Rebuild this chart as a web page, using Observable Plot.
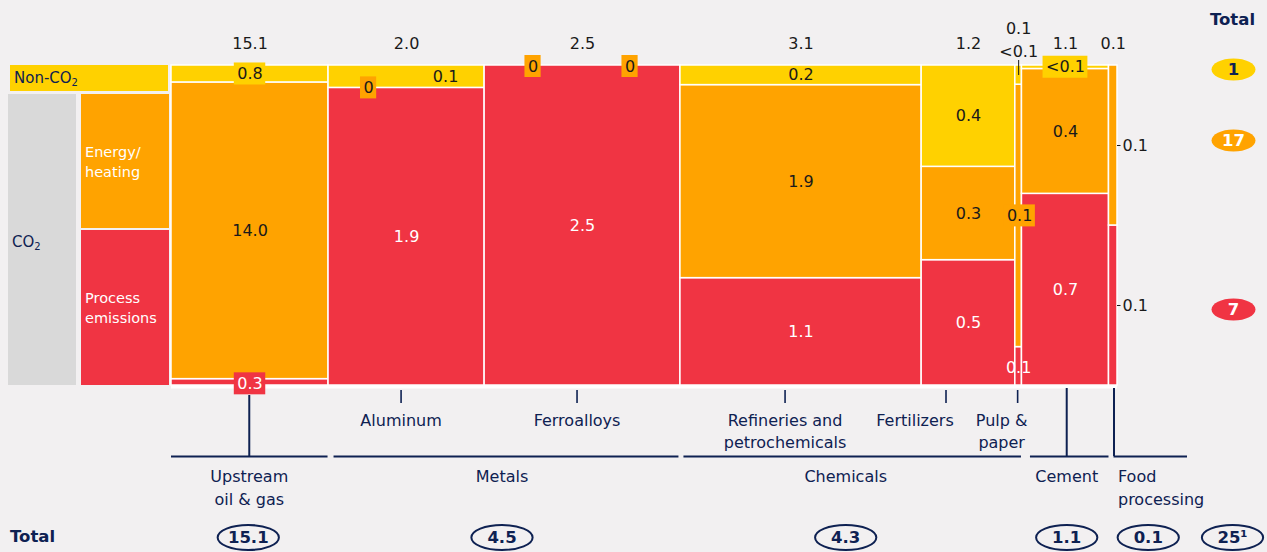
<!DOCTYPE html>
<html>
<head>
<meta charset="utf-8">
<script src="https://cdn.jsdelivr.net/npm/d3@7"></script>
<script src="https://cdn.jsdelivr.net/npm/@observablehq/plot@0.6"></script>
<style>
  body { margin: 0; background: #f2f0f1; font-family: "DejaVu Sans", sans-serif; }
  #wrap { position: relative; width: 1267px; height: 552px; overflow: hidden; }
  #wrap svg { position: absolute; left: 0; top: 0; }
  .lg { position: absolute; box-sizing: border-box; font-size: 14.5px; line-height: 20px; padding-left: 4px; }
  .lg sub { font-size: 10px; vertical-align: -3px; line-height: 0; }
</style>
</head>
<body>
<div id="wrap"></div>
<script>
// ---------------- DATA ----------------
const sectors = ["Upstream oil & gas", "Aluminum", "Ferroalloys", "Refineries and petrochemicals",
                 "Fertilizers", "Pulp & paper", "Cement", "Food processing"];
const sectorGroup = ["Upstream oil & gas", "Metals", "Metals", "Chemicals", "Chemicals", "Chemicals", "Cement", "Food processing"];
const groups = ["Upstream oil & gas", "Metals", "Chemicals", "Cement", "Food processing"];
const groupLabels = ["Upstream\noil & gas", "Metals", "Chemicals", "Cement", "Food\nprocessing"];
const groupTotals = ["15.1", "4.5", "4.3", "1.1", "0.1"];
const grandTotal = "25¹";
// column width share (%)
const columnWidth = [16.6, 16.5, 20.7, 25.5, 9.9, 0.7, 9.2, 0.9];
// emissions by type
const nonCO2 = [0.8, 0.14, 0, 0.19, 0.38, 0.006, 0.012, 0];
const energy = [14.0, 0, 0, 1.87, 0.35, 0.082, 0.43, 0.05];
const processEm = [0.3, 1.86, 2.5, 1.04, 0.47, 0.012, 0.66, 0.05];
const sectorTotalLabels = ["15.1", "2.0", "2.5", "3.1", "1.2", "0.1", "1.1", "0.1"];
const nonCO2Labels = ["0.8", "0.1", "0", "0.2", "0.4", "<0.1", "<0.1", ""];
const energyLabels = ["14.0", "0", "0", "1.9", "0.3", "0.1", "0.4", "0.1"];
const processLabels = ["0.3", "1.9", "2.5", "1.1", "0.5", "0.1", "0.7", "0.1"];
const subsectorLabels = ["", "Aluminum", "Ferroalloys", "Refineries and\npetrochemicals", "Fertilizers", "Pulp &\npaper", "", ""];
const gasTypes = ["nonCO2", "energy", "process"];
const gasTotals = ["1", "17", "7"];

// ---------------- LAYOUT / STYLE ----------------
const W = 1267, H = 552, mL = 171, mR = 150, mT = 65, mB = 167;
const plotW = W - mL - mR, plotH = H - mT - mB;
const xMax = d3.sum(columnWidth);
const ux = px => px * xMax / plotW;
const uy = px => px / plotH;
const colors = { nonCO2: "#FFD100", energy: "#FFA300", process: "#F03443" };
const NAVY = "#0E2152", INK = "#1a1a1a";

const labelLayout = {
  "0|nonCO2": { bg: colors.nonCO2 },
  "0|process": { bg: colors.process, dy: 1.5 },
  "1|nonCO2": { dx: 39 },
  "1|energy": { dx: -38, bg: colors.energy },
  "2|nonCO2": { dx: -49.5, dy: 1, bg: colors.energy },
  "2|energy": { dx: 47.5, dy: 1, bg: colors.energy },
  "5|nonCO2": { above: true },
  "5|energy": { dx: 1, bg: colors.energy },
  "5|process": { dy: 2 },
  "6|nonCO2": { bg: colors.nonCO2 },
  "7|energy": { outside: true },
  "7|process": { outside: true }
};
const tickDx = { 1: -5.5, 2: -5.5, 3: -16, 4: -22.5, 5: -1 };
const subLabelDx = { 1: -5.5, 2: -5.5, 3: -16, 4: -53.5, 5: -17 };
const bracketInset = [[0, -0.5], [5.5, -1.5], [3.5, -0.5], [8.5, 0], [5, 70]];
const groupLabelDx = [-0.75, -2.5, -5.5, 1.25, null];
const groupEllipseDx = [-1.75, -2.5, -5.5, 1.25, 35];
const gasTotalY = [4, 75, 244];   // px below top of bars
const gasTotalFill = [colors.nonCO2, colors.energy, colors.process];
const gasTotalInk = [NAVY, "white", "white"];

// ---------------- BUILD ----------------
let acc = 0;
const cols = sectors.map((s, i) => {
  const x1 = acc; acc += columnWidth[i];
  const tot = nonCO2[i] + energy[i] + processEm[i];
  return { i, s, x1, x2: acc, xc: (x1 + acc) / 2, p: processEm[i] / tot, e: energy[i] / tot };
});
const segs = [];
cols.forEach(c => {
  [["process", 0, c.p], ["energy", c.p, c.p + c.e], ["nonCO2", c.p + c.e, 1]].forEach(([t, a, b]) =>
    segs.push({ ...c, type: t, y1: a, y2: b, fill: colors[t] }));
});

const valueLabels = { nonCO2: nonCO2Labels, energy: energyLabels, process: processLabels };
const charW = { "0": .636, "1": .636, "2": .636, "3": .636, "4": .636, "5": .636, "6": .636, "7": .636, "8": .636, "9": .636, ".": .318, "<": .838 };
const textW = s => [...s].reduce((a, ch) => a + (charW[ch] || .6), 0) * 16;
const labels = [];
segs.forEach(s => {
  const txt = valueLabels[s.type][s.i];
  if (!txt) return;
  const L = labelLayout[`${s.i}|${s.type}`] || {};
  let x = s.xc + ux(L.dx || 0), y = (s.y1 + s.y2) / 2 - uy(L.dy || 0), anchor = "middle";
  if (L.above) y = 1 + uy(13.5);
  if (L.outside) { x = s.x2 + ux(5); anchor = "start"; }
  labels.push({ x, y, txt, anchor, bg: L.bg, leader: !!L.outside, xEdge: s.x2,
    color: (s.type === "process" && !L.outside) ? "white" : INK });
});
const boxes = labels.filter(d => d.bg).map(d => {
  const w = textW(d.txt) + 6;
  return { x1: d.x - ux(w / 2), x2: d.x + ux(w / 2), y1: d.y - uy(11), y2: d.y + uy(11), fill: d.bg };
});

const subs = cols.filter(c => subsectorLabels[c.i]).map(c => {
  const txt = subsectorLabels[c.i], n = txt.split("\n").length;
  return { txt, xt: c.xc + ux(tickDx[c.i]), xl: c.xc + ux(subLabelDx[c.i]), yl: -uy(33 + (n - 1) * 11) };
});

const grp = groups.map((g, k) => {
  const cs = cols.filter(c => sectorGroup[c.i] === g);
  const x1 = cs[0].x1, x2 = cs[cs.length - 1].x2, xc = (x1 + x2) / 2;
  const n = groupLabels[k].split("\n").length;
  return { g, k, x1, x2, xc,
    b1: x1 + ux(bracketInset[k][0]), b2: x2 + ux(bracketInset[k][1]),
    lx: groupLabelDx[k] === null ? x1 + ux(9) : xc + ux(groupLabelDx[k]),
    ly: -uy(89 + (n - 1) * 11.5), label: groupLabels[k], anchor: groupLabelDx[k] === null ? "start" : "middle",
    ex: xc + ux(groupEllipseDx[k]), total: groupTotals[k] };
});
grp.push({ ex: xMax + ux(115), total: grandTotal });
const connectors = [
  { x: grp[0].xc + ux(-0.75), y1: -uy(10), y2: -uy(71) },
  { x: grp[3].xc + ux(1.25), y1: -uy(3), y2: -uy(71) },
  { x: grp[4].x1 + ux(5), y1: -uy(3), y2: -uy(71) }
];
const gasT = gasTypes.map((t, k) => ({ t, v: gasTotals[k], x: xMax + ux(116), y: 1 - uy(gasTotalY[k]), fill: gasTotalFill[k], ink: gasTotalInk[k] }));

const ellipse = ratio => ({
  draw(ctx, size) {
    const ry = Math.sqrt(size / Math.PI), rx = ry * ratio, k = 0.5522847498;
    ctx.moveTo(rx, 0);
    ctx.bezierCurveTo(rx, ry * k, rx * k, ry, 0, ry);
    ctx.bezierCurveTo(-rx * k, ry, -rx, ry * k, -rx, 0);
    ctx.bezierCurveTo(-rx, -ry * k, -rx * k, -ry, 0, -ry);
    ctx.bezierCurveTo(rx * k, -ry, rx, -ry * k, rx, 0);
    ctx.closePath();
  }
});

const chart = Plot.plot({
  width: W, height: H, marginLeft: mL, marginRight: mR, marginTop: mT, marginBottom: mB,
  x: { domain: [0, xMax], axis: null },
  y: { domain: [0, 1], axis: null },
  color: { type: "identity" },
  style: { background: "transparent", fontFamily: "DejaVu Sans, sans-serif", overflow: "visible" },
  marks: [
    Plot.rect(segs, { x1: "x1", x2: "x2", y1: "y1", y2: "y2", fill: "fill", stroke: "white", strokeWidth: 1.5 }),
    Plot.ruleY([0], { y: () => -uy(1.5), x1: () => 0, x2: () => xMax, stroke: "white", strokeWidth: 3 }),
    Plot.rect(boxes, { x1: "x1", x2: "x2", y1: "y1", y2: "y2", fill: "fill" }),
    Plot.text(labels.filter(d => d.anchor === "middle"), { x: "x", y: "y", text: "txt", fill: "color", fontSize: 16 }),
    Plot.text(labels.filter(d => d.anchor === "start"), { x: "x", y: "y", text: "txt", fill: "color", fontSize: 16, textAnchor: "start" }),
    Plot.ruleY(labels.filter(d => d.leader), { y: "y", x1: "xEdge", x2: d => d.xEdge + ux(3.5), stroke: INK, strokeWidth: 1 }),
    // sector totals
    Plot.text(cols, { x: "xc", y: d => 1 + uy(d.i === 5 ? 36.5 : 21.5), text: d => sectorTotalLabels[d.i], fill: INK, fontSize: 16 }),
    Plot.ruleX(cols.filter(d => d.i === 5), { x: "xc", y1: () => 1 + uy(5), y2: () => 1 - uy(10), stroke: INK, strokeWidth: 1 }),
    // subsector ticks & labels
    Plot.ruleX(subs, { x: "xt", y1: () => -uy(5), y2: () => -uy(18), stroke: NAVY, strokeWidth: 1.6 }),
    Plot.text(subs, { x: "xl", y: "yl", text: "txt", fill: NAVY, fontSize: 16, lineHeight: 1.375 }),
    // group brackets
    Plot.ruleY(grp.slice(0, 5), { y: () => -uy(71), x1: "b1", x2: "b2", stroke: NAVY, strokeWidth: 2 }),
    Plot.ruleX(connectors, { x: "x", y1: "y1", y2: "y2", stroke: NAVY, strokeWidth: 2 }),
    Plot.text(grp.slice(0, 4), { x: "lx", y: "ly", text: "label", fill: NAVY, fontSize: 16, lineHeight: 1.44 }),
    Plot.text(grp.slice(4, 5), { x: "lx", y: "ly", text: "label", fill: NAVY, fontSize: 16, lineHeight: 1.44, textAnchor: "start" }),
    // group totals
    Plot.dot(grp, { x: "ex", y: () => -uy(152), r: 12.5, symbol: ellipse(2.45), stroke: NAVY, strokeWidth: 2, fill: "none" }),
    Plot.text(grp, { x: "ex", y: () => -uy(152), text: "total", fill: NAVY, fontSize: 16.5, fontWeight: "bold" }),
    // gas type totals
    Plot.text([0], { x: () => xMax + ux(115), y: () => 1 + uy(46), text: () => "Total", fill: NAVY, fontSize: 16.5, fontWeight: "bold" }),
    Plot.dot(gasT, { x: "x", y: "y", r: 11, symbol: ellipse(2), fill: "fill" }),
    Plot.text(gasT, { x: "x", y: "y", text: "v", fill: "ink", fontSize: 16.5, fontWeight: "bold" })
  ]
});

const wrap = document.getElementById("wrap");
wrap.appendChild(chart);
// left key
const key = [
  { html: "Non-CO<sub>2</sub>", left: 10, top: 65, w: 158, h: 25.5, bg: colors.nonCO2, color: NAVY, pad: 2.5, fs: 15 },
  { html: "CO<sub>2</sub>", left: 8, top: 94, w: 68, h: 290.5, bg: "#D9D9D9", color: NAVY, pad: 138, fs: 15 },
  { html: "Energy/<br>heating", left: 81, top: 94, w: 88, h: 134, bg: colors.energy, color: "white", pad: 48, fs: 14.5 },
  { html: "Process<br>emissions", left: 81, top: 230, w: 88, h: 154.5, bg: colors.process, color: "white", pad: 58, fs: 14.5 }
];
key.forEach(k => {
  const d = document.createElement("div");
  d.className = "lg";
  d.innerHTML = k.html;
  Object.assign(d.style, { left: k.left + "px", top: k.top + "px", width: k.w + "px", height: k.h + "px",
    background: k.bg, color: k.color, paddingTop: k.pad + "px", fontSize: k.fs + "px" });
  wrap.appendChild(d);
});
const tot = document.createElement("div");
tot.textContent = "Total";
Object.assign(tot.style, { position: "absolute", left: "10px", top: "527px", fontWeight: "bold", fontSize: "16.5px", color: NAVY, lineHeight: "20px" });
wrap.appendChild(tot);
</script>
</body>
</html>
